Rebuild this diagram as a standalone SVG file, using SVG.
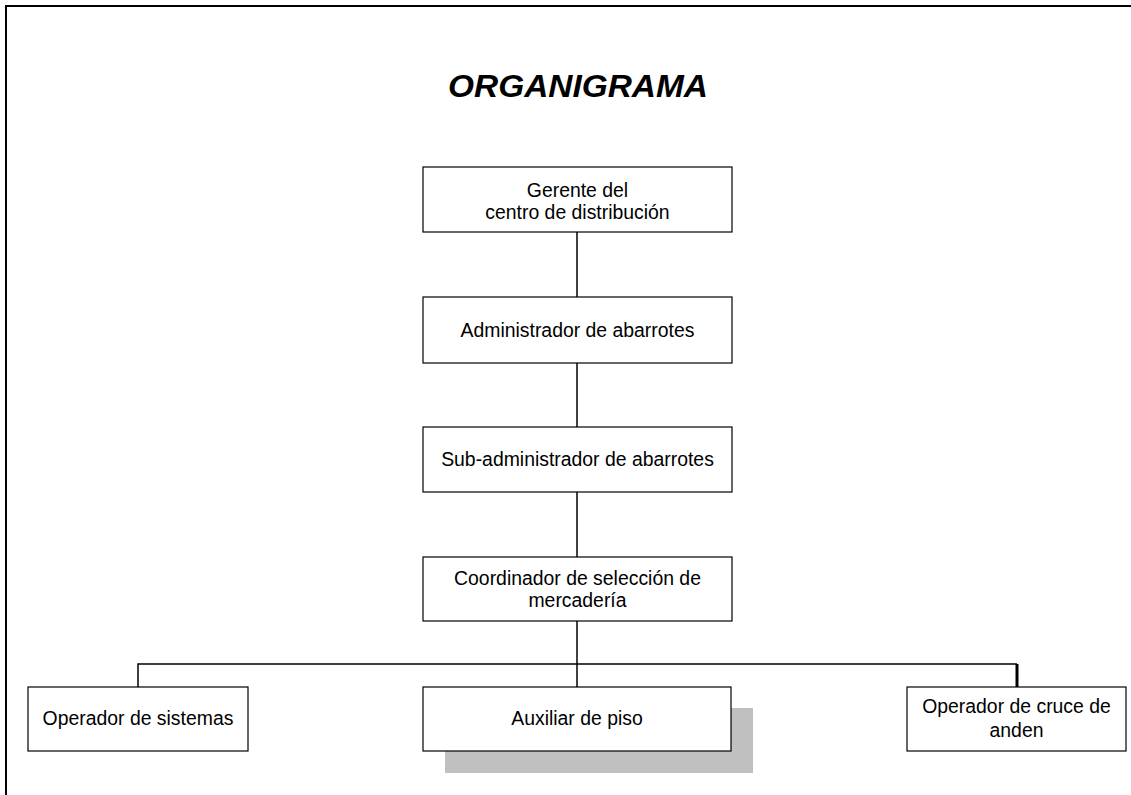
<svg xmlns="http://www.w3.org/2000/svg" width="1131" height="795" viewBox="0 0 1131 795">
  <style>
    .box { fill: #ffffff; stroke: #000000; stroke-width: 1.2; }
    .shadow { fill: #c0c0c0; }
    .lbl { font-family: "Liberation Sans", Arial, sans-serif; font-size: 19.4px; fill: #000000; text-anchor: middle; }
    .title { font-family: "Liberation Sans", Arial, sans-serif; font-size: 31px; font-weight: bold; font-style: italic; fill: #000000; text-anchor: middle; }
    .conn { stroke: #000000; stroke-width: 1.5; fill: none; }
  </style>
  <rect width="1131" height="795" fill="#ffffff"/>
  <!-- page frame -->
  <rect x="6" y="6" width="1140" height="800" fill="none" stroke="#000000" stroke-width="2"/>

  <text class="title" x="578" y="97" textLength="260" lengthAdjust="spacingAndGlyphs">ORGANIGRAMA</text>

  <g id="connectors">
    <line class="conn" x1="577" y1="232" x2="577" y2="297"/>
    <line class="conn" x1="577" y1="363" x2="577" y2="427"/>
    <line class="conn" x1="577" y1="492" x2="577" y2="557"/>
    <line class="conn" x1="577" y1="621" x2="577" y2="687"/>
    <polyline class="conn" points="138,687 138,664 1017,664"/>
    <line x1="1017" y1="664" x2="1017" y2="687" stroke="#000000" stroke-width="3"/>
  </g>

  <g id="gerente">
    <rect class="box" x="423" y="167" width="309" height="65"/>
    <text class="lbl" x="577.5" y="197">Gerente del</text>
    <text class="lbl" x="577.5" y="219">centro de distribución</text>
  </g>

  <g id="administrador">
    <rect class="box" x="423" y="297" width="309" height="66"/>
    <text class="lbl" x="577.5" y="337">Administrador de abarrotes</text>
  </g>

  <g id="subadministrador">
    <rect class="box" x="423" y="427" width="309" height="65"/>
    <text class="lbl" x="577.5" y="466">Sub-administrador de abarrotes</text>
  </g>

  <g id="coordinador">
    <rect class="box" x="423" y="557" width="309" height="64"/>
    <text class="lbl" x="577.5" y="585">Coordinador de selección de</text>
    <text class="lbl" x="577.5" y="607">mercadería</text>
  </g>

  <g id="operador-sistemas">
    <rect class="box" x="28" y="687" width="220" height="64"/>
    <text class="lbl" x="138" y="725">Operador de sistemas</text>
  </g>

  <g id="auxiliar-piso">
    <rect class="shadow" x="445" y="708" width="308" height="65"/>
    <rect class="box" x="423" y="687" width="308" height="64"/>
    <text class="lbl" x="577" y="725">Auxiliar de piso</text>
  </g>

  <g id="operador-cruce">
    <rect class="box" x="907" y="687" width="219" height="64"/>
    <text class="lbl" x="1016.5" y="713">Operador de cruce de</text>
    <text class="lbl" x="1016.5" y="737">anden</text>
  </g>
</svg>
